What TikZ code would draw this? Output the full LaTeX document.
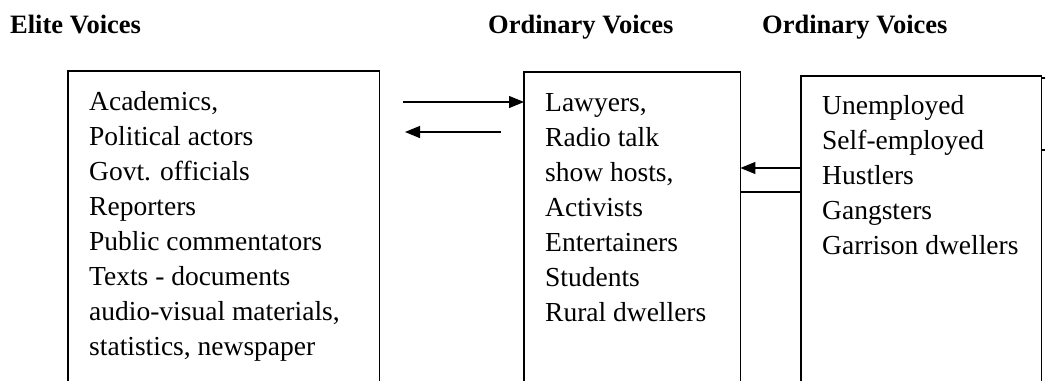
\documentclass[tikz,border=0pt]{standalone}
\usepackage{fontspec}
\setmainfont{Liberation Serif}
\usetikzlibrary{arrows.meta}
\begin{document}
\begin{tikzpicture}[x=1pt,y=-1pt,
  title/.style={font=\fontsize{26.5}{30}\selectfont\bfseries, anchor=base west, inner sep=0},
  item/.style={font=\fontsize{27.5}{35}\selectfont, anchor=base west, inner sep=0},
  area/.style={draw=none, anchor=north west, inner sep=0},
  frame/.style={line width=1.4pt},
  arr/.style={line width=1.2pt, -{Triangle[length=15pt,width=12pt]}},
  plain/.style={line width=1.2pt}]
\useasboundingbox (0,0) rectangle (1045,381);
% titles
\node[title] (t1) at (10,33) {Elite Voices};
\node[title] (t2) at (488,33) {Ordinary Voices};
\node[title] (t3) at (762,33) {Ordinary Voices};
% box areas
\node[area, minimum width=311pt, minimum height=310pt] (elite) at (68,71) {};
\node[area, minimum width=216pt, minimum height=309pt] (ordA) at (524,72) {};
\node[area, minimum width=240pt, minimum height=305pt] (ordB) at (801,76) {};
\draw[frame] (elite.south west) -- (elite.north west) -- (elite.north east) -- (elite.south east);
\draw[frame] (ordA.south west) -- (ordA.north west) -- (ordA.north east) -- (ordA.south east);
\draw[frame] (ordB.south west) -- (ordB.north west) -- (ordB.north east) -- (ordB.south east);
\draw[frame] ([yshift=-2pt]ordB.north east) -- ++(5,0);
\draw[frame] ([yshift=-74pt]ordB.north east) -- ++(5,0);
% texts
\foreach \t [count=\i] in {{Academics,},{Political actors},{Govt. officials},{Reporters},{Public commentators},{Texts - documents},{audio-visual materials,},{statistics, newspaper}}
  \node[item] (e\i) at (89,{110+35*(\i-1)}) {\t};
\foreach \t [count=\i] in {{Lawyers,},{Radio talk},{show hosts,},{Activists},{Entertainers},{Students},{Rural dwellers}}
  \node[item] (o\i) at (545,{111+35*(\i-1)}) {\t};
\foreach \t [count=\i] in {{Unemployed},{Self-employed},{Hustlers},{Gangsters},{Garrison dwellers}}
  \node[item] (g\i) at (822,{114+35*(\i-1)}) {\t};
% connectors
\coordinate (a1s) at (403,102);
\coordinate (a2s) at (501,132);
\coordinate (a2e) at (405,132);
\coordinate (h3) at (0,168);
\coordinate (h4) at (0,192);
\draw[arr] (a1s) -- (a1s -| ordA.west);
\draw[arr] (a2s) -- (a2e);
\draw[arr] (ordB.west |- h3) -- (ordA.east |- h3);
\draw[plain] (ordA.east |- h4) -- (ordB.west |- h4);
\end{tikzpicture}
\end{document}
